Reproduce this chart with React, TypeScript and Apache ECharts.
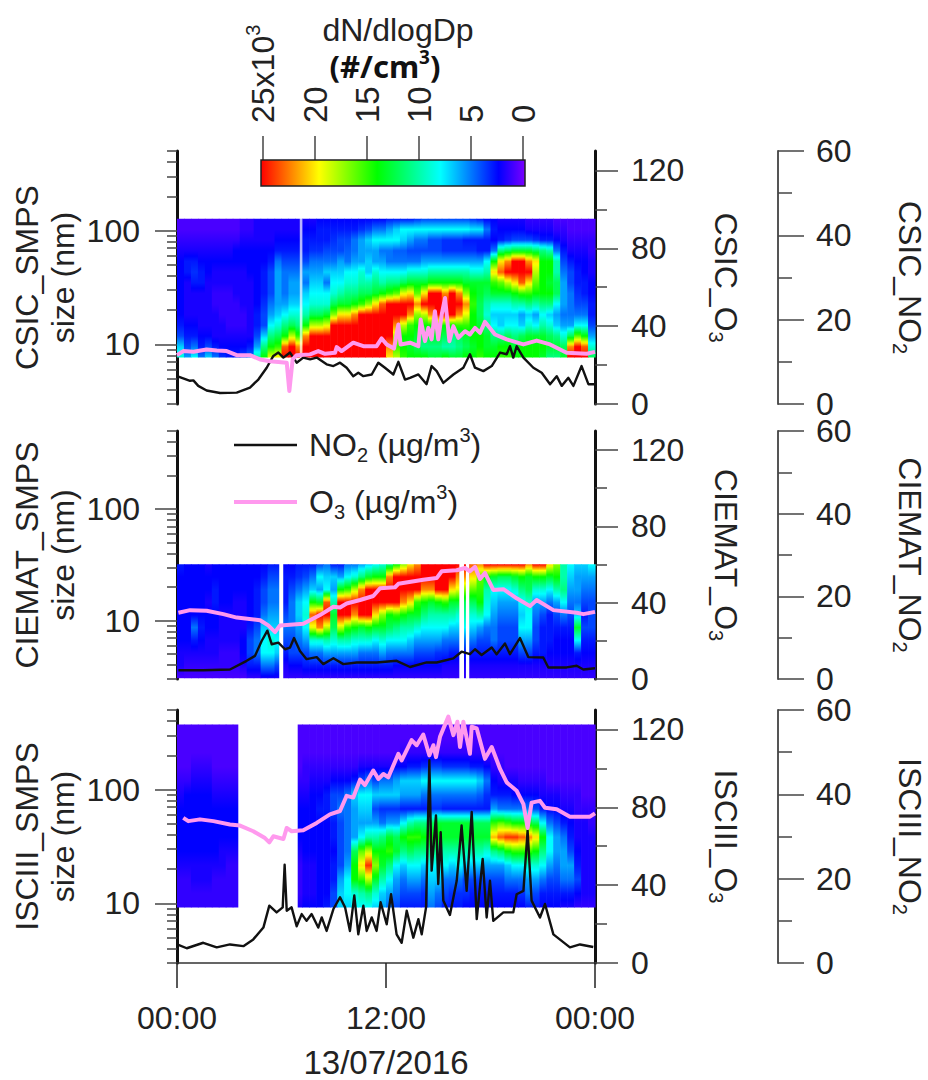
import React, { useEffect, useRef } from "react";
import * as echarts from "echarts";

const FONT = "Liberation Sans";
const LOG_MIN = 3;
const LOG_MAX = 500;
const SIZE_MAJOR = [10, 100];
const SIZE_MINOR = [3, 4, 5, 6, 7, 8, 9, 20, 30, 40, 50, 60, 70, 80, 90, 200, 300, 400, 500];
const O3_MAJOR = [0, 40, 80, 120];
const O3_MINOR = [20, 60, 100];
const COLOR_VALUES = [0, 2.5, 8, 14, 19.5, 25];
const COLOR_NAMES = ["#7a00ff", "#0000ff", "#00ffff", "#00ff00", "#ffff00", "#ff0000"];
const COLUMN_HOURS = 0.4;

const csicRange = [7.7, 127];
const ciematRange = [3.05, 32];
const isciiiRange = [9.2, 373];

const csicGaps = [[7.05, 7.2]];
const ciematGaps = [[5.87, 6.1], [16.21, 16.48], [16.59, 16.78]];
const isciiiGaps = [[3.52, 6.93]];

// dN/dlogDp in 10^3 /cm3, one list per time column, smallest size first
const csicColumns = [
  [9,7,4,3,2.5,2.5,2.5,2.5,2.5,2.5,2,1.5,1,1],
  [6,4,3,2.5,2,2,2,2,3,3,2,1.5,1,1],
  [8,5,3,2.5,2,2,2,3,3.5,3,2,1.5,1,1],
  [5,3,2.5,2,2,2,2,3,3,2.5,2,1.5,1,1],
  [7,4,2.5,2,2,2,2,2,2.5,2.5,2,1.5,1,1],
  [5,3,2,2,2,1.5,1.5,2,2,2.5,2,1.5,1,1],
  [3.5,2.5,2,2,1.5,1.5,1.5,2,2,2.5,2,1.5,1,1],
  [3,2.5,2,1.5,1.5,1.5,1.5,2,2,2.5,2,1.5,1,1],
  [3,2.5,2,1.5,1.5,1.5,2,2,2,2.5,2.5,1.5,1,1],
  [4,2.5,2,1.5,1.5,2,2,2,2,2.5,2.5,2,1.5,1.5],
  [5,3,2,2,2,2,2,2,2.5,2.5,2.5,2,1.5,1.5],
  [10,6,4,3,3,2.5,2.5,2.5,2.5,2.5,2.5,2,2,2],
  [14,11,7,4,4,3.5,3,3,3,2.5,2.5,2,2,2],
  [19,14,11,8,6,5,4,4,4,3,2.5,2,2,2],
  [20,15,12,9,7,6,6,6,6,5,3,2.5,2,2],
  [25,23,14,11,8,6,5,5,5,4,3,2.5,2,2],
  [25,25,18,12,9,7,6,6,5,4,3,2.5,2,2],
  [25,22,15,11,9,7,6,6,5,4,3,2.5,2,2],
  [25,25,22,14,10,8,7,5,6,4,3,3,2.5,2],
  [25,25,25,18,12,9,8,7,6,5,3.5,3,2.5,2],
  [25,25,25,18,12,9,8,7,6,5,3.5,3,3,2.5],
  [25,25,25,19,13,9,8,5,7,5,4,3,3,2.5],
  [25,25,25,25,17,12,9,8,7,5,4,3.5,3,2.5],
  [25,25,25,25,20,13,10,8,7,6,4,4,3,2.5],
  [25,25,25,25,20,13,11,9,8,5,4.5,4,3,2.5],
  [25,25,25,25,22,14,11,9,8,6,5,5,3,2.5],
  [25,25,25,25,25,15,12,10,9,6,6,6,3.5,2.5],
  [25,25,25,25,25,17,12,10,7,7,6,7,4,2.5],
  [25,25,25,25,25,20,13,11,9,6,6,8,5,2.5],
  [25,25,25,25,25,23,14,10,8,6,5,8,5,2.5],
  [20,22,25,25,25,25,15,11,8,5,5,8,6,3],
  [18,15,18,22,25,25,16,11,8,5,4.5,8,7,3],
  [15,14,14,18,25,25,19,12,8,5,4.5,7,8,3],
  [14,13,14,15,22,25,20,13,9,5,4,6,8,3],
  [14,12,13,14,17,22,16,13,9,5,4,5,8,3.5],
  [14,11,12,14,18,25,20,13,9,6,4,5,8,4],
  [13,11,13,14,22,25,25,14,10,6,4,4,8,4],
  [13,11,13,15,25,25,25,14,10,6,4,4,8,4],
  [14,10,12,14,25,25,22,14,10,6,3.5,3.5,8,4],
  [13,10,11,14,25,25,25,14,10,6,3.5,3.5,8,4],
  [13,11,12,15,22,25,22,14,10,6,3.5,3.5,8,4],
  [14,12,13,15,19,22,17,13,10,6,3.5,3,8,4],
  [14,13,14,14,14,15,14,13,9,6,3.5,3,7.5,3.5],
  [15,14,14,13,12,12,13,13,9,6,3,3,7.5,3],
  [14,13,13,11,9,10,12,13,10,8,3,3,5,2.5],
  [14,13,11,8,7,9,13,15,20,14,5,2.5,3,2.5],
  [15,14,11,7,7,9,13,16,23,20,11,3,2.5,2],
  [15,14,12,8,7,9,13,18,25,22,12,3.5,2.5,2],
  [14,13,11,8,7,10,14,20,25,25,13,4,2.5,2],
  [14,14,12,7,6,10,15,23,25,25,13,4,2.5,2],
  [14,14,13,9,7,11,15,20,25,22,13,4,2,1.5],
  [14,14,13,8,6,10,14,16,18,20,12,3.5,2,1.5],
  [13,14,13,10,8,11,14,14,14,14,11,3,2,1.5],
  [11,13,12,9,7,11,14,13,14,14,10,3,2,1.5],
  [11,13,11,7,6,8,12,12,10,10,5,2.5,1.5,1],
  [13,12,9,6,5,6,6,6,5,4,3,2,1.5,1],
  [25,22,12,6,5,5,5,4,4,3,2,1.5,1,1],
  [25,25,16,8,5,4,3.5,3,3,2.5,2,1.5,1,1],
  [25,23,14,8,5,4,3,3,2.5,2.5,2,1.5,1,1],
  [12,9,6,4,3,3,2.5,2.5,2,2,1.5,1.5,1,1],
];

const ciematColumns = [
  [1,2,2,2.5,2.5,2.5,2.5,2.5,2.5,3],
  [1,1.5,2,2.5,2.5,2.5,2.5,2.5,2.5,2.5],
  [1,1.5,2,3,5,2.5,2.5,2.5,2.5,2.5],
  [1,1.5,2,2.5,3,2.5,2.5,2.5,2.5,2.5],
  [1,1.5,2,2,2.5,2.5,2,2.5,2.5,2],
  [1,1.5,2,2,2.5,2.5,3,3,2.5,2.5],
  [1,1.5,1.5,2,2,2,2.5,2.5,2.5,2.5],
  [1,1.5,1.5,2,2,2,2.5,2.5,2.5,2.5],
  [1,1.5,1.5,2,2,2,2,2.5,2.5,2.5],
  [1,2,2.5,2.5,2,2,2,2.5,2.5,2.5],
  [1.5,3,4,4,3,2.5,2.5,2.5,2.5,2.5],
  [1.5,3,5,5,4,3,3,3,2.5,2.5],
  [2,5,8,8,7,5,4,4,3,2.5],
  [2,5,8,9,7,6,5,5,4,3],
  [2,4,7,8,7,6,5,5,4,3],
  [1.5,2,3,4,5,4,3,3,3,2.5],
  [1.5,2.5,4,4,5,5,5,4,3,2.5],
  [1.5,2.5,4,5,6,7,7,5,3.5,3],
  [1.5,3,4,6,8,9,8,6,4,3],
  [1.5,3,5,9,19,23,14,7,5,3],
  [1.5,3,5,9,22,25,13,6,8,4],
  [1.5,3,6,10,18,25,23,8,7,5],
  [1.5,3,6,9,12,13,10,6,7,3],
  [1.5,3,6,10,18,25,25,14,6,3],
  [1.5,3,6,10,15,25,25,15,8,5],
  [1.5,3,6,9,14,22,25,18,9,5],
  [1.5,3,5,9,13,25,25,22,11,6],
  [1.5,3,5,9,14,25,25,25,13,7],
  [1.5,3,5,8,13,20,25,25,14,8],
  [1.5,3,6,9,13,17,25,25,14,9],
  [1.5,3,5,8,12,14,25,25,22,11],
  [1.5,2.5,5,8,11,15,25,25,25,14],
  [1.5,2.5,5,8,10,14,22,25,25,17],
  [1.5,2.5,5,7,10,13,20,25,25,20],
  [1.5,2.5,4,6,9,13,15,25,25,22],
  [1.5,2.5,4,6,8,11,14,22,25,25],
  [1.5,2.5,4,6,8,10,13,22,25,25],
  [1.5,2.5,3.5,6,8,10,14,25,25,25],
  [1.5,2,3.5,5,8,10,15,25,25,25],
  [1.5,2,3,5,7,10,13,20,25,25],
  [1.5,2,3,5,7,9,13,19,22,25],
  [1.5,2,3,5,8,10,12,17,22,25],
  [1.5,2,3,5,7,9,12,16,20,23],
  [1.5,2,3,4,6,10,14,15,16,22],
  [1.5,2,3,4,5,8,9,10,14,25],
  [1.5,2,3,5,5,6,7,8,13,25],
  [1.5,2,3,4,4,5,6,8,12,25],
  [1.5,2,3,4,4,5,6,8,12,25],
  [1.5,2,3,4,4,5,6,9,13,25],
  [1.5,2,4,6,8,7,8,11,14,25],
  [1.5,2,4,6,8,8,9,12,13,22],
  [1.5,2,3,4,4,5,6,9,14,25],
  [1.5,2,3,3,3,4,6,9,14,25],
  [1.5,2,2.5,3,3,3,5,8,13,20],
  [1.5,2,2.5,2.5,3,4,6,10,14,17],
  [1.5,2,2.5,2.5,3,5,8,11,10,10],
  [1.5,2,2.5,2.5,3,4,5,6,7,8],
  [1.5,2,3,8,13,7,5,6,6,7],
  [1.5,2,2.5,3,4,3,4,5,6,7],
  [1.5,2,2.5,3,4,4,4,5,6,8],
];

const isciiiColumns = [
  [1.5,1.5,1.5,2,2.5,2.5,2.5,2.5,2,1.5,1,1,1,1],
  [1.5,1.5,1.5,2,2.5,2.5,2.5,2.5,2.5,1.5,1,1,1,1],
  [1.5,1.5,2,2,2.5,2.5,2.5,2.5,2.5,2,1.5,1,1,1],
  [1.5,1.5,2,2,2.5,2.5,2.5,2.5,2.5,2,1.5,1,1,1],
  [1.5,1.5,2,2,2.5,2.5,2.5,2.5,2.5,2,1.5,1,1,1],
  [1.5,1.5,1.5,2,2.5,2.5,2.5,2.5,2,1.5,1,1,1,1],
  [1.5,1.5,1.5,2,2,2.5,2.5,2.5,2,1.5,1,1,1,1],
  [1.5,1.5,1.5,1.5,2,2.5,2.5,2.5,2,1.5,1,1,1,1],
  [1.5,1.5,1.5,1.5,2,2.5,2.5,2.5,2,1.5,1,1,1,1],
  [], [], [], [], [], [], [], [],
  [2,1.5,1.5,1.5,2,2.5,2.5,2.5,2,1.5,1,1,1,1],
  [2.5,2,2,2,2.5,2.5,2.5,2.5,2,1.5,1.5,1,1,1],
  [2.5,2,2,2,2.5,2.5,2.5,2.5,2.5,2,1.5,1,1,1],
  [2.5,2.5,2.5,2.5,2.5,2.5,2.5,3,2.5,2,1.5,1,1,1],
  [3,2.5,2.5,2.5,2.5,2.5,2.5,3,3,2,1.5,1,1,1],
  [4,4,3,3,2.5,3,3,4,4,2.5,1.5,1,1,1],
  [7,7,6,4,4,4,4,5,4,2.5,1.5,1,1,1],
  [7,8,8,6,5,5,5,5,5,2.5,1.5,1,1,1],
  [8,9,14,14,12,6,6,6,7,3,1.5,1,1,1],
  [8,10,15,20,16,8,6,7,8,4,2,1,1,1],
  [8,11,18,24,18,10,6,7,8,5,2,1,1,1],
  [7,9,13,17,14,10,6,4,7,4,2,1,1,1],
  [6,7,10,13,14,11,5,3.5,7,5,2,1,1,1],
  [5,6,8,11,15,13,6,3.5,7,5,2,1,1,1],
  [4,5,6,8,13,12,6,3.5,7,6,2.5,1,1,1],
  [3,4,5,7,11,14,8,3,6,7,2.5,1.5,1,1],
  [3,4,6,8,12,15,10,3,6,7,3,1.5,1,1],
  [3,4,6,8,11,15,11,3,6,7,3,1.5,1,1],
  [3,3.5,5,7,11,14,11,3,5,8,3.5,1.5,1,1],
  [5,6,7,8,11,14,12,3.5,5,8,4,1.5,1,1],
  [4,5,7,8,11,14,13,3.5,5,8,4,1.5,1,1],
  [3,4,5,8,10,13,13,3,5,8,3.5,1.5,1,1],
  [3,3.5,5,7,10,13,13,3,5,8,3.5,1.5,1,1],
  [3,3.5,5,8,10,13,13,3,5,8,3.5,1.5,1,1],
  [2.5,3.5,4,7,10,13,13,3,5,8,3.5,1.5,1,1],
  [2.5,3,4,7,10,13,12,3,5,8,3,1.5,1,1],
  [2.5,3,4,7,10,13,12,3,4.5,7,3,1.5,1,1],
  [2.5,3,4,6,9,13,12,3,3.5,5,2.5,1,1,1],
  [2.5,3,4,6,11,21,15,6,3,2.5,1.5,1,1,1],
  [2.5,3,4,6,12,23,16,5,3,2,1.5,1,1,1],
  [2.5,3,5,7,14,24,15,5,3,2,1,1,1,1],
  [2.5,3,5,8,15,24,14,5,2.5,2,1,1,1,1],
  [2.5,3.5,5,8,15,23,14,5,2.5,1.5,1,1,1,1],
  [3,5,6,9,15,22,13,5,2.5,1.5,1,1,1,1],
  [3,4,6,9,14,20,12,4,2.5,1.5,1,1,1,1],
  [2.5,3,5,8,11,14,8,3,2,1.5,1,1,1,1],
  [2.5,3,4,6,8,8,5,2.5,2,1,1,1,1,1],
  [2.5,3,4,5,6,6,4,2.5,2,1,1,1,1,1],
  [2,3,5,6,6,5,3,2,1.5,1,1,1,1,1],
  [2,3,5,6,4,3,2.5,2,1.5,1,1,1,1,1],
  [1.5,2.5,4,3,2.5,2,2,1.5,1.5,1,1,1,1,1],
  [1.5,2,2,2,2,2,2,1.5,1,1,1,1,1,1],
  [1.5,2,2,2,2,2,1.5,1.5,1,1,1,1,1,1],
];

const csicNo2Hours = [0,.75,.94,1.22,1.7,2.47,3.43,4.19,4.67,5.15,5.53,5.82,6.11,6.49,6.87,7.25,7.64,8.02,8.59,8.98,9.36,9.74,10.12,10.41,10.7,11.18,11.56,11.94,12.42,12.71,13.09,13.38,13.86,14.33,14.62,14.91,15.29,15.87,16.44,16.82,17.11,17.59,18.07,18.55,18.93,19.12,19.31,19.5,19.89,20.46,20.94,21.42,21.8,22.09,22.47,22.76,23.23,23.62,24];
const csicNo2 = [6.6,5.5,5.6,4.3,3.2,2.6,2.7,3.9,5.8,8.6,11.4,12.2,11,12.2,9.8,11,10.6,11,9.4,9,9.8,8.6,6.6,7.4,6.6,7,9.8,8.6,7,10,5.8,6.2,7,4.7,9,7.8,5,7,8.6,11.8,8.6,7.8,9,12.2,11.8,13.7,11,13.7,11,8.6,7.4,4.7,6.6,4.3,6.2,4.3,9,4.7,4.7];
const csicO3Hours = [0,.36,.94,1.7,2.28,2.85,3.43,4.19,4.77,5.34,6.3,6.45,6.64,6.87,7.64,8.11,8.5,9.07,9.17,9.45,10.12,10.7,11.46,11.75,12.04,12.46,12.71,12.84,13.38,13.86,13.99,14.24,14.43,14.62,14.81,15,15.2,15.39,15.64,15.87,16.15,16.54,16.82,17.11,17.4,17.68,18.26,18.93,19.89,20.65,21.42,22.37,23.52,24];
const csicO3 = [25.1,27.2,26.8,28,27.5,27.2,25.1,25.1,22.9,22,21.2,6.7,22.9,25.1,25.5,27.2,25.8,26.3,29.2,27.2,31.5,29.7,29.7,33.7,30.6,28.5,40.9,30.6,31.5,29.7,43.4,32.3,39.1,33.2,47.7,33.2,46,54.5,32.3,40,34,37.4,35.7,39.1,36.6,42.2,35.7,33.2,30.6,32.6,30.6,26.3,25.8,26.8];

const ciematNo2Hours = [.08,1.51,3.04,4,4.48,4.86,5.19,5.44,5.82,6.2,6.49,6.72,7.06,7.44,8.02,8.4,8.98,9.55,10.32,11.46,12.61,13.38,14.33,14.91,15.87,16.34,16.82,17.11,17.49,18.07,18.35,18.83,19.12,19.69,20.17,21.03,21.32,22.37,22.95,23.33,24];
const ciematNo2 = [2.1,2.1,2.3,4.4,5.6,9.2,11.7,8.4,8.8,7.2,7.6,9.9,6.8,4.8,5.3,3.6,5,3.6,4,4,4.4,2.9,4,4,5,6.6,6,7.2,5.8,7.6,6,8.6,6,9.9,5.3,5.2,2.8,2.8,3.2,2.3,2.6];
const ciematO3Hours = [.08,.75,1.7,2.66,3.43,4.77,5.24,5.63,5.91,7.25,8.21,8.98,9.36,9.74,10.51,11.27,11.66,12.52,12.71,14.14,14.91,15.2,16.06,16.54,16.82,17.11,17.4,17.68,18.16,18.74,19.5,20.27,20.65,21.61,22.95,23.33,24];
const ciematO3 = [34.7,36.1,35.8,34,32.2,30.8,28.1,24.6,28.1,29,33.5,37.9,37.5,39.6,41.4,43.5,47.6,48.1,49.9,52,52.9,56.5,57,58.2,56.5,58.8,52.4,55.6,46.7,47.1,42.3,38.2,41.4,36.1,34.7,34,35.2];

const isciiiNo2Hours = [.08,.56,1.51,2.28,3.04,3.81,4.38,4.96,5.3,5.72,6.07,6.18,6.3,6.58,6.87,7.16,7.44,7.73,8.11,8.31,8.59,8.98,9.36,9.65,9.93,10.18,10.41,10.7,10.89,11.18,11.46,11.69,12.04,12.29,12.61,12.9,13.19,13.57,13.86,14.05,14.3,14.49,14.62,14.87,15,15.14,15.29,15.67,16.06,16.34,16.63,16.92,17.21,17.55,17.78,17.97,18.16,18.74,19.31,19.5,19.89,20.13,20.36,20.84,21.13,21.61,22.56,23.14,23.9];
const isciiiNo2 = [4.3,3.5,4.8,3.7,4.4,4,5.6,8.4,13.6,12,13.2,23.3,12.4,13.2,8.7,11.6,10,11.6,8.4,10.8,7.6,12.8,15.6,13.2,7.6,16,6.8,13.6,7.6,10.8,7.6,14.4,9.2,16.3,6.8,4.8,12.4,6,10.4,6.8,13.2,48.1,21.9,35,18.7,31,14.8,11.4,19.5,32.6,17.1,35.8,10.4,24.7,10.8,19.5,10,12,12,16.3,17.1,31.4,14.8,10.8,14,6.8,3.7,4.4,3.8];
const isciiiO3Hours = [.36,.65,1.32,2.09,3.04,3.62,4.38,5.05,5.3,5.53,6.11,6.3,6.58,7.25,8.02,8.78,9.36,9.74,10.12,10.51,10.79,11.27,11.56,11.85,12.13,12.71,12.9,13.47,13.76,14.14,14.49,14.72,14.87,15.1,15.58,15.87,16.1,16.25,16.44,16.82,16.92,17.21,17.68,18.07,18.55,18.93,19.5,19.89,20.13,20.36,20.84,21.13,21.8,22.56,23.71,24];
const isciiiO3 = [74.6,72.9,73.8,72.9,71.2,70.6,67.7,64.2,62,65.1,63.7,69.4,67.7,68.2,72,76.4,78.1,85.9,85,94.2,91.4,98.9,94.5,97.1,95.4,107.5,104.1,114.5,111.9,117.4,106.7,111.9,105.8,116.2,126.6,117.1,124,111,124,107.5,121.4,120.5,104.9,111,99.7,92.8,88.5,81.6,69.4,82.4,83.3,79.8,79,75.2,75.2,76.9];

const NO2_NAME = "NO2 (µg/m3)";
const O3_NAME = "O3 (µg/m3)";
const NO2_COLOR = "#111";
const O3_COLOR = "#ff99ee";
const NO2_WIDTH = 2.4;
const O3_WIDTH = 4;

const hex = (s: string) => [1, 3, 5].map((i) => parseInt(s.slice(i, i + 2), 16));
function colorOf(v: number): string {
  const x = Math.max(0, Math.min(25, v));
  let k = 0;
  while (k < COLOR_VALUES.length - 2 && x > COLOR_VALUES[k + 1]) k++;
  const f = (x - COLOR_VALUES[k]) / (COLOR_VALUES[k + 1] - COLOR_VALUES[k]);
  const a = hex(COLOR_NAMES[k]);
  const b = hex(COLOR_NAMES[k + 1]);
  return `rgb(${a.map((c, i) => Math.round(c + (b[i] - c) * f)).join(",")})`;
}

function columnStops(values: number[]) {
  const stops: { offset: number; color: string }[] = [];
  const n = values.length - 1;
  for (let i = 0; i < n; i++) {
    for (let s = 0; s < 6; s++) {
      stops.push({ offset: (i + s / 6) / n, color: colorOf(values[i] + ((values[i + 1] - values[i]) * s) / 6) });
    }
  }
  stops.push({ offset: 1, color: colorOf(values[n]) });
  return stops;
}

const main = (size = 32) => ({ fontSize: size, fontFamily: FONT, color: "#222", lineHeight: 40 });
const richText = {
  t: main(),
  s: { fontSize: 20, fontFamily: FONT, color: "#222", lineHeight: 40, verticalAlign: "bottom" },
  u: { fontSize: 20, fontFamily: FONT, color: "#222", lineHeight: 40, verticalAlign: "top" },
};

function columnSeries(columns: number[][], range: number[], xAxisIndex: number, yAxisIndex: number) {
  const items = columns
    .map((col, i) => ({ col, h0: i * COLUMN_HOURS }))
    .filter((c) => c.col.length > 0);
  return {
    type: "custom",
    silent: true,
    xAxisIndex,
    yAxisIndex,
    encode: { x: [0, 1], y: [2, 3] },
    data: items.map((c) => [c.h0, c.h0 + COLUMN_HOURS, range[0], range[1]]),
    renderItem: (params: any, api: any) => {
      const a = api.coord([api.value(0), api.value(2)]);
      const b = api.coord([api.value(1), api.value(3)]);
      return {
        type: "rect",
        shape: { x: a[0], y: b[1], width: b[0] - a[0] + 0.6, height: a[1] - b[1] },
        style: { fill: new echarts.graphic.LinearGradient(0, 1, 0, 0, columnStops(items[params.dataIndex].col)) },
      };
    },
    z: 1,
  };
}

function gapSeries(gaps: number[][], range: number[], xAxisIndex: number, yAxisIndex: number, opacity: number) {
  return {
    type: "custom",
    silent: true,
    xAxisIndex,
    yAxisIndex,
    encode: { x: [0, 1], y: [2, 3] },
    data: gaps.map((g) => [g[0], g[1], range[0], range[1]]),
    renderItem: (_: any, api: any) => {
      const a = api.coord([api.value(0), api.value(2)]);
      const b = api.coord([api.value(1), api.value(3)]);
      return {
        type: "rect",
        shape: { x: a[0], y: b[1] - 1, width: b[0] - a[0], height: a[1] - b[1] + 2 },
        style: { fill: "#fff", opacity },
      };
    },
    z: 2,
  };
}

const zip = (xs: number[], ys: number[]) => xs.map((x, i) => [x, ys[i]]);

function lineSeries(name: string, xs: number[], ys: number[], xAxisIndex: number, yAxisIndex: number, color: string, width: number, z: number) {
  return {
    type: "line",
    name,
    xAxisIndex,
    yAxisIndex,
    data: zip(xs, ys),
    showSymbol: false,
    symbol: "none",
    lineStyle: { color, width, join: "round" },
    itemStyle: { color },
    silent: true,
    z,
  };
}

const HIDDEN_LINE = { show: true, onZero: false, lineStyle: { opacity: 0, width: 0 } };

function panelAxes(gridIndex: number, leftName: string, o3Name: string, no2Name: string) {
  const tickLine = { lineStyle: { color: "#444", width: 1.5 } };
  return [
    {
      type: "log", logBase: 10, gridIndex, position: "left", min: LOG_MIN, max: LOG_MAX,
      name: leftName, nameLocation: "middle", nameGap: 96, nameRotate: 90, nameMoveOverlap: false,
      nameTextStyle: { fontSize: 32, fontFamily: FONT, color: "#222", lineHeight: 36 },
      axisLine: { show: true, onZero: false, lineStyle: { color: "#111", width: 3 } },
      axisTick: { show: true, length: 22, customValues: SIZE_MAJOR, ...tickLine },
      axisLabel: { customValues: SIZE_MAJOR, margin: 37, fontSize: 32, fontFamily: FONT, color: "#222", formatter: (v: number) => String(Math.round(v)) },
      splitLine: { show: false },
    },
    {
      type: "log", logBase: 10, gridIndex, position: "left", min: LOG_MIN, max: LOG_MAX,
      axisLine: HIDDEN_LINE,
      axisTick: { show: true, length: 10, customValues: SIZE_MINOR, ...tickLine },
      axisLabel: { show: false },
      splitLine: { show: false },
    },
    {
      type: "value", gridIndex, position: "right", min: 0, max: 130,
      name: o3Name, nameLocation: "middle", nameGap: 111, nameRotate: -90, nameMoveOverlap: false,
      nameTextStyle: { rich: richText },
      axisLine: { show: true, onZero: false, lineStyle: { color: "#111", width: 3 } },
      axisTick: { show: true, length: 23, customValues: O3_MAJOR, ...tickLine },
      axisLabel: { customValues: O3_MAJOR, margin: 36, fontSize: 32, fontFamily: FONT, color: "#222" },
      splitLine: { show: false },
    },
    {
      type: "value", gridIndex, position: "right", min: 0, max: 130,
      axisLine: HIDDEN_LINE,
      axisTick: { show: true, length: 12, customValues: O3_MINOR, ...tickLine },
      axisLabel: { show: false },
      splitLine: { show: false },
    },
    {
      type: "value", gridIndex, position: "right", offset: 183, min: 0, max: 60, interval: 20,
      name: no2Name, nameLocation: "middle", nameGap: 112, nameRotate: -90, nameMoveOverlap: false,
      nameTextStyle: { rich: richText },
      axisLine: { show: true, onZero: false, lineStyle: { color: "#555", width: 2 } },
      axisTick: { show: true, length: 26, lineStyle: { color: "#444", width: 1.5 } },
      minorTick: { show: true, splitNumber: 2, length: 14, lineStyle: { color: "#444", width: 1.5 } },
      axisLabel: { margin: 38, fontSize: 32, fontFamily: FONT, color: "#222" },
      splitLine: { show: false },
    },
  ];
}

function buildOption() {
  const yAxes = [
    ...panelAxes(0, "CSIC_SMPS\nsize (nm)", "{t|CSIC_O}{s|3}", "{t|CSIC_NO}{s|2}"),
    ...panelAxes(1, "CIEMAT_SMPS\nsize (nm)", "{t|CIEMAT_O}{s|3}", "{t|CIEMAT_NO}{s|2}"),
    ...panelAxes(2, "ISCIII_SMPS\nsize (nm)", "{t|ISCIII_O}{s|3}", "{t|ISCIII_NO}{s|2}"),
    { type: "value", gridIndex: 3, min: 0, max: 1, show: false },
  ];
  const hiddenX = (gridIndex: number) => ({ type: "value", gridIndex, min: 0, max: 24, interval: 12, show: false });
  const xAxes = [
    hiddenX(0),
    hiddenX(1),
    {
      type: "value", gridIndex: 2, min: 0, max: 24, interval: 12,
      name: "13/07/2016", nameLocation: "middle", nameGap: 83, nameMoveOverlap: false,
      nameTextStyle: { fontSize: 33, fontFamily: FONT, color: "#222" },
      axisLine: { show: true, onZero: false, lineStyle: { color: "#333", width: 1.5 } },
      axisTick: { show: true, length: 25, lineStyle: { color: "#222", width: 1.5 } },
      axisLabel: {
        margin: 39, fontSize: 32, fontFamily: FONT, color: "#222", showMinLabel: true, showMaxLabel: true,
        hideOverlap: false, formatter: (v: number) => (v === 12 ? "12:00" : "00:00"),
      },
      splitLine: { show: false },
    },
    {
      type: "value", gridIndex: 3, position: "top", inverse: true, min: 0, max: 25, interval: 5,
      axisLine: HIDDEN_LINE,
      axisTick: { show: true, length: 24, lineStyle: { color: "#444", width: 1.5 } },
      axisLabel: {
        rotate: -90, margin: 37, fontSize: 33, fontFamily: FONT, color: "#222",
        formatter: (v: number) => (v === 25 ? "{t|25x10}{u|3}" : String(v)),
        rich: richText,
      },
      splitLine: { show: false },
    },
  ];
  const barStops = COLOR_VALUES.map((v, i) => ({ offset: 1 - v / 25, color: COLOR_NAMES[i] })).reverse();
  const series = [
    columnSeries(csicColumns, csicRange, 0, 0),
    gapSeries(csicGaps, csicRange, 0, 0, 0.7),
    lineSeries(NO2_NAME, csicNo2Hours, csicNo2, 0, 4, NO2_COLOR, NO2_WIDTH, 3),
    lineSeries(O3_NAME, csicO3Hours, csicO3, 0, 2, O3_COLOR, O3_WIDTH, 4),
    columnSeries(ciematColumns, ciematRange, 1, 5),
    gapSeries(ciematGaps, ciematRange, 1, 5, 1),
    lineSeries(NO2_NAME, ciematNo2Hours, ciematNo2, 1, 9, NO2_COLOR, NO2_WIDTH, 3),
    lineSeries(O3_NAME, ciematO3Hours, ciematO3, 1, 7, O3_COLOR, O3_WIDTH, 4),
    columnSeries(isciiiColumns, isciiiRange, 2, 10),
    gapSeries(isciiiGaps, isciiiRange, 2, 10, 1),
    lineSeries(NO2_NAME, isciiiNo2Hours, isciiiNo2, 2, 14, NO2_COLOR, NO2_WIDTH, 3),
    lineSeries(O3_NAME, isciiiO3Hours, isciiiO3, 2, 12, O3_COLOR, O3_WIDTH, 4),
    {
      type: "custom", silent: true, xAxisIndex: 3, yAxisIndex: 15,
      encode: { x: [0, 1], y: [2, 3] },
      data: [[25, 0, 0, 1]],
      renderItem: (_: any, api: any) => {
        const a = api.coord([api.value(0), api.value(2)]);
        const b = api.coord([api.value(1), api.value(3)]);
        return {
          type: "rect",
          shape: { x: a[0] - 2, y: b[1], width: b[0] - a[0] + 4, height: a[1] - b[1] },
          style: { fill: new echarts.graphic.LinearGradient(0, 0, 1, 0, barStops), stroke: "#222", lineWidth: 1.5 },
        };
      },
    },
  ];
  return {
    animation: false,
    backgroundColor: "#fff",
    title: [
      { text: "dN/dlogDp", left: 393, top: 9, textAlign: "center", textStyle: { fontSize: 32, fontWeight: "normal", fontFamily: FONT, color: "#222" } },
      {
        text: "{b|(#/cm}{c|3}{b|)}", left: 380, top: 42, textAlign: "center",
        textStyle: {
          rich: {
            b: { fontSize: 31, fontWeight: "bold", fontFamily: "Noto Sans", color: "#111", lineHeight: 38 },
            c: { fontSize: 19, fontWeight: "bold", fontFamily: "Noto Sans", color: "#111", lineHeight: 38, verticalAlign: "top" },
          },
        },
      },
    ],
    legend: {
      left: 232, top: 425, orient: "vertical", itemWidth: 63, itemHeight: 2, itemGap: 17, padding: 0,
      data: [
        { name: NO2_NAME, lineStyle: { width: NO2_WIDTH, color: NO2_COLOR, opacity: 1 } },
        { name: O3_NAME, lineStyle: { width: O3_WIDTH, color: O3_COLOR, opacity: 1 } },
      ],
      selectedMode: false,
      itemStyle: { opacity: 0 },
      formatter: (n: string) => (n === NO2_NAME ? "{t|NO}{s|2}{t| (µg/m}{u|3}{t|)}" : "{t|O}{s|3}{t| (µg/m}{u|3}{t|)}"),
      textStyle: { rich: richText, padding: [0, 0, 0, 7] },
    },
    grid: [
      { left: 177, width: 418, top: 151, height: 253, outerBoundsMode: "none" },
      { left: 177, width: 418, top: 431, height: 248, outerBoundsMode: "none" },
      { left: 177, width: 418, top: 710, height: 253, outerBoundsMode: "none" },
      { left: 263, width: 260, top: 160, height: 26, outerBoundsMode: "none" },
    ],
    xAxis: xAxes,
    yAxis: yAxes,
    series,
  };
}

export default function App() {
  const ref = useRef<HTMLDivElement>(null);
  useEffect(() => {
    const chart = echarts.init(ref.current!, null, { renderer: "svg" });
    chart.setOption(buildOption() as any);
    return () => chart.dispose();
  }, []);
  return <div ref={ref} style={{ position: "absolute", left: 0, top: 0, width: 928, height: 1080 }} />;
}
